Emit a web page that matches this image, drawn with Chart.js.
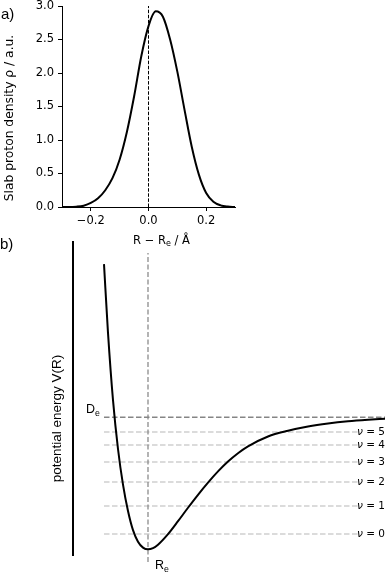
<!DOCTYPE html>
<html>
<head>
<meta charset="utf-8">
<script src="https://cdn.jsdelivr.net/npm/chart.js@4.4.1/dist/chart.umd.min.js"></script>
<style>
  html, body { margin: 0; padding: 0; background: #fff; }
  #wrap { position: relative; width: 387px; height: 575px; overflow: hidden; }
  canvas { position: absolute; left: 0; }
  #chartA { top: 0; }
  #chartB { top: 225px; }
</style>
</head>
<body>
<div id="wrap">
  <canvas id="chartA" width="387" height="250"></canvas>
  <canvas id="chartB" width="387" height="350"></canvas>
</div>
<script>
/**
 * Two-panel figure: a) slab proton density, b) Morse-type potential with levels
 */

// ---- panel a: density vs R - Re (Å) ----
const densityX = [-0.300, -0.275, -0.250, -0.225, -0.200, -0.175, -0.150, -0.125, -0.100,
                  -0.075, -0.050, -0.025, 0.000, 0.025, 0.050, 0.075, 0.100, 0.125,
                  0.150, 0.175, 0.200, 0.225, 0.250, 0.275, 0.300];
const densityY = [0.00, 0.00, 0.005, 0.02, 0.06, 0.13, 0.25, 0.43, 0.71,
                  1.12, 1.65, 2.25, 2.70, 2.92, 2.84, 2.50, 2.02, 1.45,
                  0.90, 0.48, 0.21, 0.08, 0.025, 0.006, 0.00];
const densityTicksX = [-0.2, 0.0, 0.2];
const densityTicksY = [0.0, 0.5, 1.0, 1.5, 2.0, 2.5, 3.0];

// ---- panel b: potential curve (R arb. units, V in units of De) ----
const morseR = [0.56, 0.60, 0.65, 0.70, 0.75, 0.80, 0.85, 0.90, 0.95, 1.00,
                1.05, 1.10, 1.20, 1.30, 1.40, 1.50, 1.60, 1.70, 1.80, 1.90,
                2.00, 2.20, 2.40, 2.60, 2.80, 3.00, 3.20, 3.37];
const morseV = [2.16, 1.64, 1.13, 0.76, 0.49, 0.29, 0.145, 0.058, 0.013, 0.000,
                0.009, 0.035, 0.115, 0.213, 0.315, 0.413, 0.505, 0.590, 0.665, 0.728,
                0.780, 0.855, 0.898, 0.930, 0.953, 0.970, 0.982, 0.990];
const wellDepth = 1.0;          // De
const equilR = 1.0;             // Re
const levelV = [0.116, 0.328, 0.510, 0.661, 0.790, 0.889];   // nu = 0..5
const levelSpanR = [0.56, 3.10];
const depthSpanR = [0.56, 3.37];
const equilSpanV = [-0.096, 2.245];

Chart.defaults.color = '#000';
Chart.defaults.font.family = 'DejaVu Sans';

function pts(xs, ys) {
  return xs.map((x, i) => ({ x: x, y: ys[i] }));
}

// draws text made of normal / subscript pieces
function drawRich(ctx, parts, x, y, size, family, align) {
  const fontFor = p => (p.sub ? (size * 0.7).toFixed(1) : size) + 'px ' + family;
  let total = 0;
  parts.forEach(p => { ctx.font = fontFor(p); total += ctx.measureText(p.t).width; });
  let cx = align === 'center' ? x - total / 2 : x;
  ctx.textAlign = 'left';
  ctx.textBaseline = 'alphabetic';
  parts.forEach(p => {
    ctx.font = fontFor(p);
    ctx.fillText(p.t, cx, p.sub ? y + size * 0.22 : y);
    cx += ctx.measureText(p.t).width;
  });
}

function fixedScale(w, h) {
  return function (scale) {
    if (w !== null) scale.width = w;
    if (h !== null) scale.height = h;
    scale.paddingTop = 0; scale.paddingBottom = 0;
    scale.paddingLeft = 0; scale.paddingRight = 0;
  };
}

const labelsA = {
  id: 'labelsA',
  afterDraw(chart) {
    const ctx = chart.ctx;
    const area = chart.chartArea;
    ctx.save();
    ctx.fillStyle = '#000';
    ctx.font = '15px "Liberation Sans"';
    ctx.textAlign = 'left';
    ctx.textBaseline = 'alphabetic';
    ctx.fillText('a)', 1, 19);

    // y title
    ctx.save();
    ctx.translate(9.5, 118);
    ctx.rotate(-Math.PI / 2);
    ctx.font = '12.3px "DejaVu Sans"';
    ctx.textAlign = 'center';
    ctx.textBaseline = 'middle';
    ctx.fillText('Slab proton density ρ / a.u.', 0, 0);
    ctx.restore();

    // x title
    const cx = (area.left + area.right) / 2 + 13;
    drawRich(ctx, [{ t: 'R − R' }, { t: 'e', sub: true }, { t: ' / Å' }],
             cx, 243.5, 11.5, '"DejaVu Sans"', 'center');
    ctx.restore();
  }
};

const labelsB = {
  id: 'labelsB',
  afterDraw(chart) {
    const ctx = chart.ctx;
    const xs = chart.scales.x;
    const ys = chart.scales.y;
    const area = chart.chartArea;
    ctx.save();
    ctx.fillStyle = '#000';
    ctx.font = '15px "Liberation Sans"';
    ctx.textAlign = 'left';
    ctx.textBaseline = 'alphabetic';
    ctx.fillText('b)', 0, 24);

    // y title
    ctx.save();
    ctx.translate(57, 193.5);
    ctx.rotate(-Math.PI / 2);
    ctx.font = '13.5px "Liberation Sans"';
    ctx.textAlign = 'center';
    ctx.textBaseline = 'middle';
    ctx.fillText('potential energy V(R)', 0, 0);
    ctx.restore();

    // De and Re markers
    drawRich(ctx, [{ t: 'D' }, { t: 'e', sub: true }],
             xs.getPixelForValue(depthSpanR[0]) - 18, ys.getPixelForValue(wellDepth) - 4,
             12.5, '"Liberation Sans"', 'left');
    drawRich(ctx, [{ t: 'R' }, { t: 'e', sub: true }],
             xs.getPixelForValue(equilR) + 7, area.bottom + 14,
             12.5, '"Liberation Sans"', 'left');

    // level names, right aligned at the plot edge
    ctx.textBaseline = 'middle';
    levelV.forEach((v, n) => {
      const y = ys.getPixelForValue(v);
      ctx.font = '10.5px "DejaVu Sans"';
      const rest = ' = ' + n;
      const wRest = ctx.measureText(rest).width;
      ctx.textAlign = 'right';
      ctx.fillText(rest, area.right, y);
      ctx.font = 'italic 10.5px "DejaVu Sans"';
      ctx.fillText('ν', area.right - wRest, y);
    });
    ctx.restore();
  }
};

function renderDensityChart() {
  const ctx = document.getElementById('chartA').getContext('2d');
  return new Chart(ctx, {
    type: 'line',
    data: {
      datasets: [
        {
          data: pts(densityX, densityY),
          borderColor: '#000',
          borderWidth: 2,
          cubicInterpolationMode: 'monotone',
          pointRadius: 0
        },
        {
          data: [{ x: 0, y: densityTicksY[0] }, { x: 0, y: densityTicksY[densityTicksY.length - 1] }],
          borderColor: '#000',
          borderWidth: 1,
          borderDash: [3.5, 1.6],
          pointRadius: 0
        }
      ]
    },
    options: {
      responsive: false,
      animation: false,
      devicePixelRatio: 1,
      layout: { padding: { left: 0, top: 6, right: 152, bottom: 0 } },
      plugins: { legend: { display: false }, tooltip: { enabled: false } },
      scales: {
        x: {
          type: 'linear', min: -0.3, max: 0.3,
          afterBuildTicks: s => { s.ticks = densityTicksX.map(v => ({ value: v })); },
          afterFit: fixedScale(null, 43),
          grid: { drawOnChartArea: false, drawTicks: true, tickLength: 4, color: '#000', lineWidth: 1 },
          border: { display: true, color: '#000', width: 1 },
          ticks: {
            padding: 3,
            font: { size: 11.5 },
            callback: v => (v < 0 ? '−' + Math.abs(v).toFixed(1) : Math.abs(v).toFixed(1))
          }
        },
        y: {
          type: 'linear', min: 0, max: 3,
          afterBuildTicks: s => { s.ticks = densityTicksY.map(v => ({ value: v })); },
          afterFit: fixedScale(62, null),
          grid: { drawOnChartArea: false, drawTicks: true, tickLength: 4, color: '#000', lineWidth: 1 },
          border: { display: true, color: '#000', width: 1 },
          ticks: { padding: 4, font: { size: 11.5 }, callback: v => v.toFixed(1) }
        }
      }
    },
    plugins: [labelsA]
  });
}

function renderPotentialChart() {
  const ctx = document.getElementById('chartB').getContext('2d');
  const sets = [
    {
      data: pts(morseR, morseV),
      borderColor: '#000',
      borderWidth: 2,
      cubicInterpolationMode: 'monotone',
      pointRadius: 0,
      order: 0
    },
    {
      data: pts(depthSpanR, [wellDepth, wellDepth]),
      borderColor: '#858585',
      borderWidth: 1.5,
      borderDash: [5.5, 2.5],
      pointRadius: 0,
      order: 1
    },
    {
      data: pts([equilR, equilR], equilSpanV),
      borderColor: '#8c8c8c',
      borderWidth: 1.3,
      borderDash: [5, 2.5],
      pointRadius: 0,
      clip: false,
      order: 2
    }
  ];
  levelV.forEach(v => {
    sets.push({
      data: pts(levelSpanR, [v, v]),
      borderColor: '#cfcfcf',
      borderWidth: 1.4,
      borderDash: [5.5, 2.5],
      pointRadius: 0,
      order: 3
    });
  });

  return new Chart(ctx, {
    type: 'line',
    data: { datasets: sets },
    options: {
      responsive: false,
      animation: false,
      devicePixelRatio: 1,
      layout: { padding: { left: 0, top: 17, right: 2, bottom: 20 } },
      plugins: { legend: { display: false }, tooltip: { enabled: false } },
      scales: {
        x: { type: 'linear', min: 0.25, max: 3.37, display: false },
        y: {
          type: 'linear', min: -0.043, max: 2.328,
          afterFit: fixedScale(73, null),
          grid: { drawOnChartArea: false, drawTicks: false },
          border: { display: true, color: '#000', width: 2 },
          ticks: { display: false }
        }
      }
    },
    plugins: [labelsB]
  });
}

document.addEventListener('DOMContentLoaded', () => {
  renderDensityChart();
  renderPotentialChart();
});
</script>
</body>
</html>
